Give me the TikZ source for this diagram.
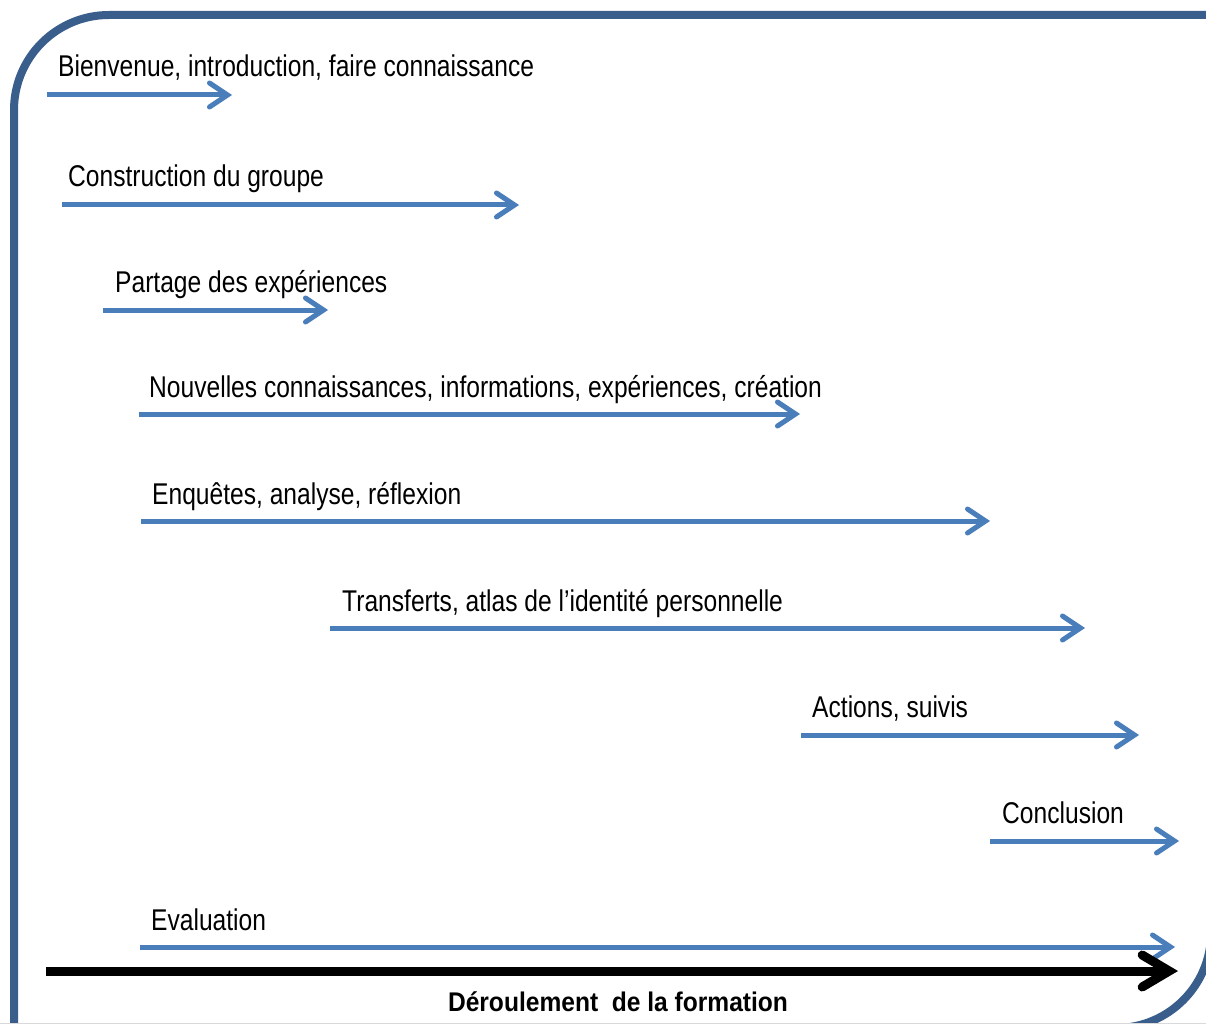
\documentclass[tikz,border=0pt]{standalone}
\usepackage{fontspec}
\setmainfont[FakeStretch=0.82]{Liberation Sans}
\newfontfamily\titlefont[FakeStretch=0.91]{Liberation Sans}
\usepackage{xcolor}
\usetikzlibrary{arrows.meta}
\definecolor{frameblue}{RGB}{58,94,140}
\definecolor{arrowblue}{RGB}{74,126,187}

\begin{document}
\begin{tikzpicture}[x=1pt,y=-1pt,
  phase/.style={draw=arrowblue,line width=5pt,-{Straight Barb[length=18pt,width=24pt,line cap=round]}},
  timeline/.style={draw=black,line width=9pt,-{Straight Barb[length=27pt,width=32pt,line cap=round]}},
  lbl/.style={anchor=base west,inner sep=0pt,font=\fontsize{30}{35}\selectfont}]
\useasboundingbox (0,0) rectangle (1206,1024);
\fill[white] (0,0) rectangle (1206,1024);
\begin{scope}
\clip (0,0) rectangle (1206,1024);
% round diagonal corner frame
\draw[frameblue,line width=8pt] (14,1060) [rounded corners=95pt] -- (14,15) [sharp corners] -- (1211,15) [rounded corners=95pt] -- (1211,1028) [sharp corners] -- (14,1028);
\draw[black!15,line width=1pt] (0,1023) -- (1206,1023);
\end{scope}

\node[lbl] (bienvenue) at (58,77) {Bienvenue, introduction, faire connaissance};
\draw[phase] (47,95) -- (232,95);

\node[lbl] (groupe) at (68,187) {Construction du groupe};
\draw[phase] (62,205) -- (519,205);

\node[lbl] (partage) at (115,292) {Partage des expériences};
\draw[phase] (103,310) -- (328,310);

\node[lbl] (nouvelles) at (149,397) {Nouvelles connaissances, informations, expériences, création};
\draw[phase] (139,414) -- (800,414);

\node[lbl] (enquetes) at (152,504) {Enquêtes, analyse, réflexion};
\draw[phase] (141,521) -- (990,521);

\node[lbl] (transferts) at (342,611) {Transferts, atlas de l’identité personnelle};
\draw[phase] (330,628) -- (1085,628);

\node[lbl] (actions) at (812,717) {Actions, suivis};
\draw[phase] (801,735) -- (1139,735);

\node[lbl] (conclusion) at (1002,823) {Conclusion};
\draw[phase] (990,841) -- (1179,841);

\node[lbl] (evaluation) at (151,930) {Evaluation};
\draw[phase] (140,947) -- (1175,947);

\draw[timeline] (46,971) -- (1178,971);
\node[inner sep=0pt,anchor=base,font=\titlefont\fontsize{27}{31}\selectfont\bfseries] (deroulement) at (618,1011) {Déroulement~ de la formation};
\end{tikzpicture}
\end{document}
